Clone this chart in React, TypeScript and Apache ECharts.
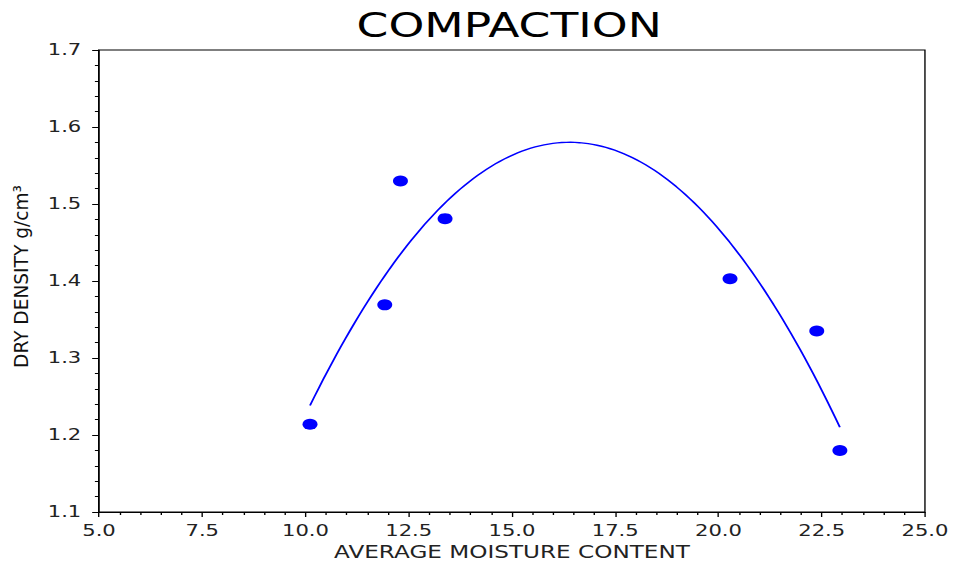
import React, { useEffect, useRef } from "react";
import * as echarts from "echarts";

// Measured data (average moisture content %, dry density g/cm³)
const moisture: number[] = [10.11, 11.92, 12.3, 13.38, 20.28, 22.38, 22.94];
const density: number[] = [1.214, 1.369, 1.53, 1.481, 1.403, 1.335, 1.18];

const xTicks = { min: 5, max: 25, interval: 2.5 };
const yTicks = { min: 1.1, max: 1.7, interval: 0.1 };

const titleText = "COMPACTION";
const xName = "AVERAGE MOISTURE CONTENT";
const yName = "DRY DENSITY g/cm³";

// Least-squares quadratic fit of the measured points (as in the source chart)
function quadFit(xs: number[], ys: number[]) {
  const n = xs.length;
  let s0 = n, s1 = 0, s2 = 0, s3 = 0, s4 = 0, t0 = 0, t1 = 0, t2 = 0;
  for (let i = 0; i < n; i++) {
    const x = xs[i], y = ys[i];
    s1 += x; s2 += x * x; s3 += x * x * x; s4 += x * x * x * x;
    t0 += y; t1 += x * y; t2 += x * x * y;
  }
  const M = [
    [s0, s1, s2, t0],
    [s1, s2, s3, t1],
    [s2, s3, s4, t2],
  ];
  for (let c = 0; c < 3; c++) {
    let p = c;
    for (let r = c + 1; r < 3; r++) if (Math.abs(M[r][c]) > Math.abs(M[p][c])) p = r;
    [M[c], M[p]] = [M[p], M[c]];
    for (let r = 0; r < 3; r++) {
      if (r === c) continue;
      const f = M[r][c] / M[c][c];
      for (let k = c; k < 4; k++) M[r][k] -= f * M[c][k];
    }
  }
  return [M[0][3] / M[0][0], M[1][3] / M[1][1], M[2][3] / M[2][2]];
}

const STRETCH = 953 / 700;

export default function App() {
  const ref = useRef<HTMLDivElement>(null);
  useEffect(() => {
    if (!ref.current) return;
    const chart = echarts.init(ref.current, undefined, { renderer: "svg" });
    const [a, b, c] = quadFit(moisture, density);
    const xmin = Math.min(...moisture);
    const xmax = Math.max(...moisture);
    const fit: number[][] = [];
    const N = 120;
    for (let i = 0; i <= N; i++) {
      const x = xmin + ((xmax - xmin) * i) / N;
      fit.push([x, a + b * x + c * x * x]);
    }
    const font = "DejaVu Sans";
    // y-label length scaling
    const cv = document.createElement("canvas").getContext("2d");
    let yScale = 1.25;
    if (cv) {
      cv.font = `14.5px "${font}"`;
      const w = cv.measureText(yName).width;
      if (w > 0) yScale = 183 / w;
    }
    chart.setOption({
      animation: false,
      backgroundColor: "#ffffff",
      grid: {
        left: 72.7,
        right: 20.6,
        top: 50,
        bottom: 55,
        show: true,
        borderColor: "#000",
        borderWidth: 1,
      },
      graphic: [
        {
          type: "text",
          x: 374,
          y: 25.5,
          style: {
            text: titleText,
            font: `33.5px "${font}"`,
            fill: "#000",
            align: "center",
            verticalAlign: "middle",
          },
        },
        {
          type: "text",
          x: 15.4,
          y: 276.5,
          rotation: Math.PI / 2,
          scaleX: yScale,
          style: {
            text: yName,
            font: `14.5px "${font}"`,
            fill: "#111",
            align: "center",
            verticalAlign: "middle",
          },
        },
      ],
      xAxis: {
        type: "value",
        min: xTicks.min,
        max: xTicks.max,
        interval: xTicks.interval,
        name: xName,
        nameLocation: "middle",
        nameGap: 27,
        nameTextStyle: { fontFamily: font, fontSize: 17, color: "#222" },
        axisLine: { show: true, onZero: false, lineStyle: { color: "#000", width: 1 } },
        axisTick: { show: true, inside: false, length: 5, lineStyle: { color: "#000" } },
        minorTick: { show: true, splitNumber: 5, length: 3, lineStyle: { color: "#000" } },
        splitLine: { show: false },
        axisLabel: {
          fontFamily: font,
          fontSize: 15.5,
          color: "#222",
          margin: 11,
          formatter: (v: number) => v.toFixed(1),
        },
      },
      yAxis: {
        type: "value",
        min: yTicks.min,
        max: yTicks.max,
        interval: yTicks.interval,
        axisLine: { show: true, onZero: false, lineStyle: { color: "#000", width: 1 } },
        axisTick: { show: true, inside: false, length: 5, lineStyle: { color: "#000" } },
        minorTick: { show: true, splitNumber: 5, length: 3, lineStyle: { color: "#000" } },
        splitLine: { show: false },
        axisLabel: {
          fontFamily: font,
          fontSize: 15.5,
          color: "#222",
          margin: 13,
          formatter: (v: number) => v.toFixed(1),
        },
      },
      series: [
        {
          type: "line",
          data: fit,
          showSymbol: false,
          symbol: "none",
          smooth: false,
          lineStyle: { color: "#0000ff", width: 1.4 },
          z: 2,
        },
        {
          type: "scatter",
          data: moisture.map((x, i) => [x, density[i]]),
          symbol: "circle",
          symbolSize: 11,
          itemStyle: { color: "#0000ff", opacity: 1 },
          z: 3,
        },
      ],
    });
    return () => chart.dispose();
  }, []);
  return (
    <div style={{ position: "fixed", left: 0, top: 0, width: 953, height: 567, overflow: "hidden", background: "#fff" }}>
      <div
        ref={ref}
        style={{
          position: "absolute",
          left: 0,
          top: 0,
          width: 700,
          height: 567,
          transform: `scaleX(${STRETCH})`,
          transformOrigin: "0 0",
        }}
      />
    </div>
  );
}
